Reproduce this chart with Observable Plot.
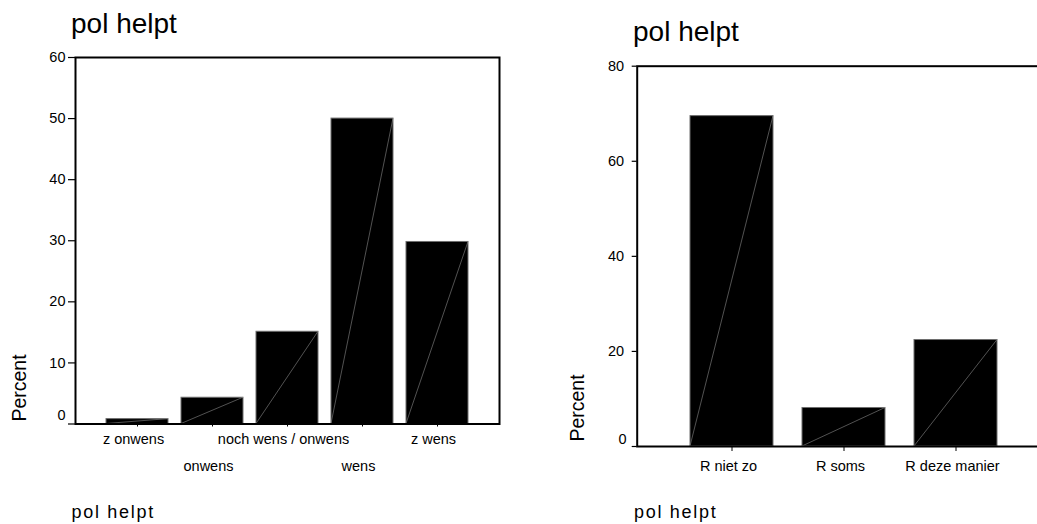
<!DOCTYPE html>
<html>
<head>
<meta charset="utf-8">
<script src="https://cdn.jsdelivr.net/npm/d3@7"></script>
<script src="https://cdn.jsdelivr.net/npm/@observablehq/plot@0.6"></script>
<style>
  body { margin: 0; background: #fff; font-family: "Liberation Sans", Arial, sans-serif; }
  #root { position: relative; width: 1037px; height: 524px; overflow: hidden; background: #fff; }
  .abs { position: absolute; white-space: nowrap; color: #000; line-height: 1; }
  .title { font-size: 28px; }
  .foot { font-size: 18px; letter-spacing: 1.7px; }
  .ylab { font-size: 19.5px; transform: translate(-50%, -50%) rotate(-90deg); }
</style>
</head>
<body>
<div id="root"></div>
<script>
// ---- data ----
const chartTitle = "pol helpt";
const footerText = "pol helpt";
const yLabel = "Percent";

const leftCategories = ["z onwens", "onwens", "noch wens / onwens", "wens", "z wens"];
const leftPercents = [0.8, 4.3, 15.1, 50.0, 29.8];
const leftYTicks = [0, 10, 20, 30, 40, 50, 60];

const rightCategories = ["R niet zo", "R soms", "R deze manier"];
const rightPercents = [69.5, 8.1, 22.4];
const rightYTicks = [0, 20, 40, 60, 80];

// ---- helpers ----
const font = '"Liberation Sans", Arial, sans-serif';
const root = document.getElementById("root");

function addText(cls, text, left, top) {
  const d = document.createElement("div");
  d.className = "abs " + cls;
  d.textContent = text;
  d.style.left = left + "px";
  d.style.top = top + "px";
  root.appendChild(d);
  return d;
}

function addDiagonals(svg) {
  d3.select(svg).selectAll('g[aria-label="bar"] rect').each(function () {
    const r = d3.select(this);
    const x = +r.attr("x"), y = +r.attr("y"), w = +r.attr("width"), h = +r.attr("height");
    d3.select(this.parentNode).append("line")
      .attr("x1", x).attr("y1", y + h)
      .attr("x2", x + w).attr("y2", y)
      .attr("stroke", "#8a8a8a").attr("stroke-width", 0.6);
  });
}

function place(svg, left) {
  svg.style.position = "absolute";
  svg.style.left = left + "px";
  svg.style.top = "0px";
  root.appendChild(svg);
}

const baseStyle = {
  fontSize: "14.5px",
  fontFamily: font,
  background: "transparent",
  overflow: "visible",
  maxWidth: "none",
  color: "#000"
};

// ---- left chart ----
const leftData = leftCategories.map((c, i) => ({cat: c, pct: leftPercents[i]}));
const leftRow1 = leftCategories.filter((c, i) => i % 2 === 0);
const leftRow2 = leftCategories.filter((c, i) => i % 2 === 1);

const leftPlot = Plot.plot({
  width: 520, height: 524,
  marginLeft: 75, marginRight: 21, marginTop: 57, marginBottom: 100.5,
  style: baseStyle,
  x: {type: "band", domain: leftCategories, paddingInner: 0.173, paddingOuter: 0.4, label: null, axis: null},
  y: {domain: [0, 60], label: null, axis: null},
  marks: [
    Plot.barY(leftData, {x: "cat", y: "pct", fill: "#000", stroke: "#6e6e6e", strokeWidth: 1}),
    Plot.frame({stroke: "#000", strokeWidth: 2}),
    Plot.axisY(leftYTicks, {tickSize: 7, tickPadding: 3, tickFormat: d => d === 0 ? "" : String(d), label: null, strokeWidth: 1.2}),
    Plot.axisY([0], {tickSize: 0, tickPadding: 10, dy: -8.5, label: null}),
    Plot.axisX(leftCategories, {tickSize: 3, tickFormat: () => "", label: null}),
    Plot.axisX(leftRow1, {tickSize: 0, tickPadding: 10, dx: -4, label: null}),
    Plot.axisX(leftRow2, {tickSize: 0, tickPadding: 37, dx: -4, label: null})
  ]
});
addDiagonals(leftPlot);
place(leftPlot, 0);

// ---- right chart ----
const rightData = rightCategories.map((c, i) => ({cat: c, pct: rightPercents[i]}));

const rightPlot = Plot.plot({
  width: 540, height: 524,
  marginLeft: 116.7, marginRight: 9.4, marginTop: 65.7, marginBottom: 78,
  style: baseStyle,
  x: {type: "band", domain: rightCategories, paddingInner: 0.257, paddingOuter: 0.46, label: null, axis: null},
  y: {domain: [0, 80], label: null, axis: null},
  marks: [
    Plot.barY(rightData, {x: "cat", y: "pct", fill: "#000", stroke: "#6e6e6e", strokeWidth: 1}),
    Plot.frame({stroke: "#000", strokeWidth: 2}),
    Plot.axisY(rightYTicks, {tickSize: 5, tickPadding: 8, tickFormat: d => d === 0 ? "" : String(d), label: null, strokeWidth: 1.2}),
    Plot.axisY([0], {tickSize: 0, tickPadding: 10.7, dy: -7, label: null}),
    Plot.axisX(rightCategories, {tickSize: 5, tickFormat: () => "", label: null}),
    Plot.axisX(rightCategories, {tickSize: 0, tickPadding: 14, dx: -3.5, label: null})
  ]
});
addDiagonals(rightPlot);
place(rightPlot, 520);

// ---- texts ----
addText("title", chartTitle, 71, 10.3);
addText("title", chartTitle, 633, 18.3);
addText("foot", footerText, 71.5, 502.5);
addText("foot", footerText, 634, 502.5);
addText("ylab", yLabel, 20, 387.5);
addText("ylab", yLabel, 578.3, 408);
</script>
</body>
</html>
